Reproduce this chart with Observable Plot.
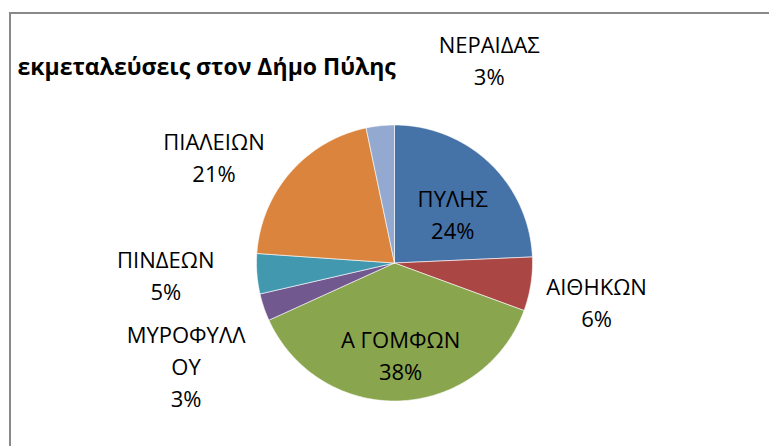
<!DOCTYPE html>
<html><head><meta charset="utf-8">
<script src="https://cdn.jsdelivr.net/npm/d3@7"></script>
<script src="https://cdn.jsdelivr.net/npm/@observablehq/plot@0.6"></script>
<style>
body{margin:0;background:#fff;}
#wrap{position:relative;width:769px;height:446px;overflow:hidden;}
#frame{position:absolute;left:9px;top:12px;width:800px;height:500px;border-left:2px solid #898989;border-top:2px solid #898989;}
#chart{position:absolute;left:0;top:0;}
</style></head><body>
<div id="wrap"><div id="frame"></div><div id="chart"></div></div>
<script>
// ---- data ----
const title = "εκμεταλεύσεις στον Δήμο Πύλης";
const categories = ["ΠΥΛΗΣ","ΑΙΘΗΚΩΝ","Α ΓΟΜΦΩΝ","ΜΥΡΟΦΥΛΛΟΥ","ΠΙΝΔΕΩΝ","ΠΙΑΛΕΙΩΝ","ΝΕΡΑΙΔΑΣ"];
const shares = [24.3, 6.3, 37.6, 3.2, 4.7, 20.6, 3.3];
const percentLabels = ["24%","6%","38%","3%","5%","21%","3%"];
const displayNames = ["ΠΥΛΗΣ","ΑΙΘΗΚΩΝ","Α ΓΟΜΦΩΝ","ΜΥΡΟΦΥΛΛ\nΟΥ","ΠΙΝΔΕΩΝ","ΠΙΑΛΕΙΩΝ","ΝΕΡΑΙΔΑΣ"];
const colors = ["#4572A7","#AA4643","#89A54E","#71588F","#4198AF","#DB843D","#93A9CF"];

// ---- layout ----
const W = 769, H = 446, CX = 394, CY = 262.5, R = 138;
const labelInside = [true,false,true,false,false,false,false];
const labelNudge = [[1,10],[18,9],[3,8],[-32,42],[-43,-3.5],[-40,15],[114,-19]];

const arcs = d3.pie().sort(null).value(d => d)(shares);
const slicePts = [];
arcs.forEach((a, i) => {
  const name = categories[i];
  slicePts.push({name, x: 0, y: 0});
  const n = Math.max(2, Math.ceil((a.endAngle - a.startAngle) / (Math.PI / 360)));
  for (let k = 0; k <= n; k++) {
    const t = a.startAngle + (a.endAngle - a.startAngle) * k / n;
    slicePts.push({name, x: Math.sin(t), y: Math.cos(t)});
  }
  slicePts.push({name, x: 0, y: 0});
});
const labels = arcs.map((a, i) => {
  const m = (a.startAngle + a.endAngle) / 2;
  const r = labelInside[i] ? 0.6 : 1.35;
  return {
    x: r * Math.sin(m) + labelNudge[i][0] / R,
    y: r * Math.cos(m) - labelNudge[i][1] / R,
    text: displayNames[i] + "\n" + percentLabels[i]
  };
});

const chart = Plot.plot({
  width: W, height: H, margin: 0,
  style: {fontFamily: "'Open Sans', sans-serif", background: "transparent", overflow: "visible"},
  x: {domain: [-CX / R, (W - CX) / R], axis: null},
  y: {domain: [(CY - H) / R, CY / R], axis: null},
  color: {domain: categories, range: colors},
  marks: [
    Plot.line(slicePts, {x: "x", y: "y", z: "name", fill: "name", stroke: "white", strokeWidth: 0.6, curve: "linear"}),
    Plot.text(labels, {x: "x", y: "y", text: "text", fontSize: 22, lineHeight: 1.45, fill: "black", textAnchor: "middle"}),
    Plot.text([title], {text: d => d, frameAnchor: "top-left", dx: 17, dy: 58, textAnchor: "start", fontWeight: "bold", fontSize: 23, fill: "black"})
  ]
});
document.getElementById("chart").append(chart);
</script>
</body></html>
